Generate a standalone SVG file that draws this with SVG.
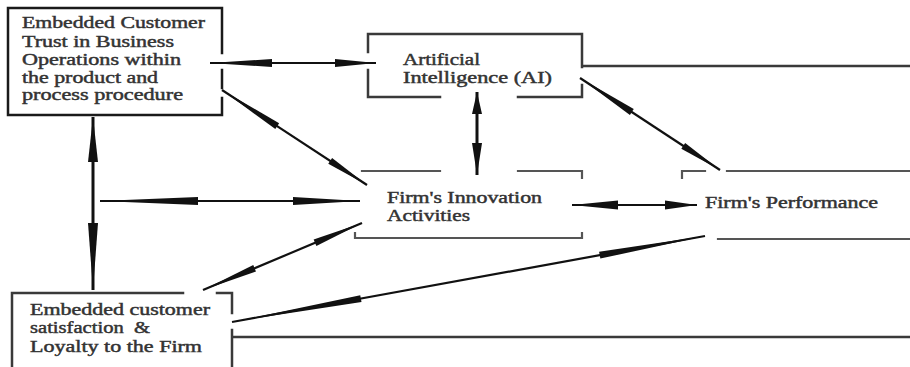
<svg xmlns="http://www.w3.org/2000/svg" xmlns:xlink="http://www.w3.org/1999/xlink" width="910" height="367" viewBox="0 0 910 367">
<style>
  .bg{fill:#ffffff}
  .box{fill:none;stroke:#3a3a3a;stroke-width:2.5;stroke-linecap:square}
  .boxd{fill:none;stroke:#1a1a1a;stroke-width:2.5;stroke-linecap:square}
  .boxl{fill:none;stroke:#555555;stroke-width:2.2;stroke-linecap:square}
  .t{font-family:"Liberation Serif","Times New Roman",serif;font-size:16px;fill:#333333;stroke:#333333;stroke-width:0.45}
  .c{stroke:#111111;stroke-width:2.2;fill:none}
  .h{fill:#111111}
</style>
<defs>
  <path id="hd" d="M0,0 L-1,-1 L-1,1 Z"/>
</defs>
<rect class="bg" x="0" y="0" width="910" height="367"/>

<g id="trust">
  <path class="boxd" d="M222,53 V8 H8 V115 H222 V98 M222,70 V88"/>
  <text class="t" x="22" y="28" textLength="183" lengthAdjust="spacingAndGlyphs">Embedded Customer</text>
  <text class="t" x="22" y="46.5" textLength="152" lengthAdjust="spacingAndGlyphs">Trust in Business</text>
  <text class="t" x="22" y="65" textLength="159" lengthAdjust="spacingAndGlyphs">Operations within</text>
  <text class="t" x="22" y="83" textLength="136" lengthAdjust="spacingAndGlyphs">the product and</text>
  <text class="t" x="22" y="100" textLength="161" lengthAdjust="spacingAndGlyphs">process procedure</text>
</g>

<g id="ai">
  <path class="box" d="M368,52 V34 H582 V67 M582,66 H910 M368,70 V97 H440 M518,97 H582 V85"/>
  <text class="t" x="403" y="65" textLength="77" lengthAdjust="spacingAndGlyphs">Artificial</text>
  <text class="t" x="403" y="83" textLength="149" lengthAdjust="spacingAndGlyphs">Intelligence (AI)</text>
</g>

<g id="innovation">
  <path class="boxl" d="M362,171 H440 M518,171 H582 V178 M355,233 V238 H582 V233"/>
  <text class="t" x="387" y="203" textLength="155" lengthAdjust="spacingAndGlyphs">Firm's Innovation</text>
  <text class="t" x="387" y="221" textLength="83" lengthAdjust="spacingAndGlyphs">Activities</text>
</g>

<g id="performance">
  <path class="boxl" d="M682,178 V171 H705 M727,171 H910 M718,239 H910"/>
  <text class="t" x="705" y="208" textLength="173" lengthAdjust="spacingAndGlyphs">Firm's Performance</text>
</g>

<g id="satisfaction">
  <path class="box" d="M183,293 H12 V367 M217,293 H232 V313 M232,330 V367 M232,337 H910"/>
  <text class="t" x="30" y="315" textLength="180" lengthAdjust="spacingAndGlyphs">Embedded customer</text>
  <text class="t" x="30" y="333" textLength="120" lengthAdjust="spacingAndGlyphs" xml:space="preserve">satisfaction  &amp;</text>
  <text class="t" x="30" y="352" textLength="172" lengthAdjust="spacingAndGlyphs">Loyalty to the Firm</text>
</g>

<g id="connectors">
  <!-- Trust <-> AI -->
  <line class="c" x1="210" y1="63" x2="376" y2="63"/>
  <use class="h" xlink:href="#hd" transform="translate(210,63) rotate(180) scale(62,4)"/>
  <use class="h" xlink:href="#hd" transform="translate(376,63) scale(41,4)"/>
  <!-- Trust <-> Innovation -->
  <line class="c" x1="222" y1="90" x2="367" y2="185"/>
  <use class="h" xlink:href="#hd" transform="translate(222,90) rotate(213.2) scale(66,3.5)"/>
  <use class="h" xlink:href="#hd" transform="translate(367,185) rotate(33.2) scale(44,3.5)"/>
  <!-- AI <-> Innovation -->
  <line class="c" x1="477" y1="92" x2="477" y2="175" style="stroke-width:3"/>
  <use class="h" xlink:href="#hd" transform="translate(477,92) rotate(-90) scale(22,5)"/>
  <use class="h" xlink:href="#hd" transform="translate(477,175) rotate(90) scale(32,5)"/>
  <!-- Trust <-> Satisfaction -->
  <line class="c" x1="93" y1="117" x2="93" y2="290" style="stroke-width:3"/>
  <use class="h" xlink:href="#hd" transform="translate(93,117) rotate(-90) scale(45,5)"/>
  <use class="h" xlink:href="#hd" transform="translate(93,290) rotate(90) scale(67,5)"/>
  <!-- Trust/Satisfaction axis <-> Innovation -->
  <line class="c" x1="100" y1="201" x2="360" y2="201"/>
  <use class="h" xlink:href="#hd" transform="translate(100,201) rotate(180) scale(98,4)"/>
  <use class="h" xlink:href="#hd" transform="translate(360,201) scale(67,4)"/>
  <!-- Satisfaction <-> Innovation -->
  <line class="c" x1="203" y1="290" x2="362" y2="223"/>
  <use class="h" xlink:href="#hd" transform="translate(203,290) rotate(157.15) scale(56,3.5)"/>
  <use class="h" xlink:href="#hd" transform="translate(362,223) rotate(-22.85) scale(51,3.5)"/>
  <!-- AI <-> Performance -->
  <line class="c" x1="580" y1="78" x2="720" y2="170"/>
  <use class="h" xlink:href="#hd" transform="translate(580,78) rotate(213.3) scale(62,3.5)"/>
  <use class="h" xlink:href="#hd" transform="translate(720,170) rotate(33.3) scale(44,3.5)"/>
  <!-- Innovation <-> Performance -->
  <line class="c" x1="572" y1="205" x2="697" y2="205"/>
  <use class="h" xlink:href="#hd" transform="translate(572,205) rotate(180) scale(46,4.5)"/>
  <use class="h" xlink:href="#hd" transform="translate(697,205) scale(32,4.5)"/>
  <!-- Satisfaction <-> Performance -->
  <line class="c" x1="232" y1="322" x2="705" y2="236"/>
  <use class="h" xlink:href="#hd" transform="translate(232,322) rotate(169.7) scale(131,3.5)"/>
  <use class="h" xlink:href="#hd" transform="translate(705,236) rotate(-10.3) scale(107,3.5)"/>
</g>
</svg>
